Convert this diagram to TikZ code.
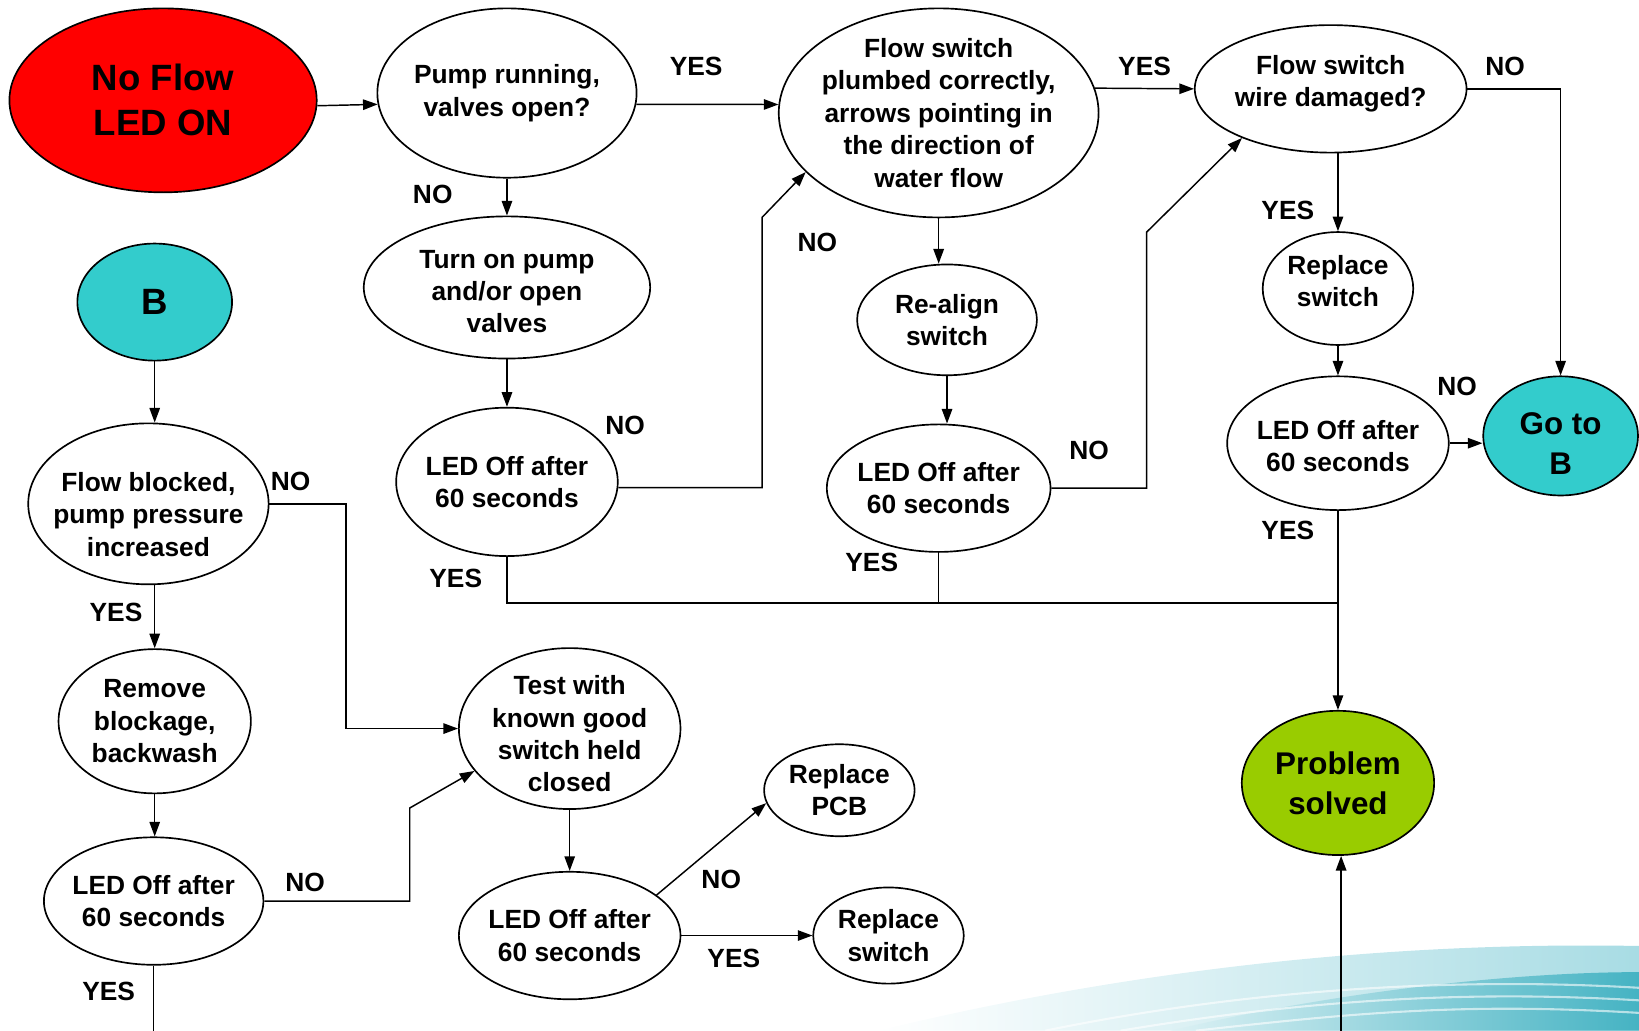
\documentclass[tikz,border=0pt]{standalone}
\usepackage{fontspec}
\setmainfont{Liberation Sans}
\usetikzlibrary{arrows.meta, shapes.geometric}
\definecolor{noflowred}{HTML}{FF0000}
\definecolor{jumpteal}{HTML}{33CCCC}
\definecolor{solvedgreen}{HTML}{99CC00}
\definecolor{wavelight}{HTML}{A8DCE4}
\definecolor{wavedark}{HTML}{45B3C3}

\begin{document}
\begin{tikzpicture}[x=0.5pt, y=-0.5pt,
    every node/.style={font=\bfseries},
    bub/.style={ellipse, draw=black, line width=0.8pt, fill=white, inner sep=0pt},
    txt/.style={font=\fontsize{12.6}{15.5}\selectfont\bfseries},
    big/.style={font=\fontsize{17.5}{21.5}\selectfont\bfseries},
    mid/.style={font=\fontsize{15}{19}\selectfont\bfseries},
    every label/.style={txt, align=center, inner sep=0pt},
    ans/.style={txt, inner sep=0pt},
    arr/.style={line width=0.7pt, -{Triangle[length=7pt, width=5pt]}},
    link/.style={line width=0.7pt},
]
\useasboundingbox (0,0) rectangle (1568,986);

% background swoosh
\shade[left color=white, right color=wavelight] (840,986) .. controls (1050,935) and (1300,900) .. (1568,905) -- (1568,986) -- cycle;
\shade[left color=wavelight!40, right color=wavedark] (1120,986) .. controls (1280,948) and (1450,930) .. (1568,930) -- (1568,986) -- cycle;
\foreach \d in {0,12,24}{
    \draw[white, line width=1pt, opacity=.6] (1000+\d*6,986) .. controls (1200+\d*4,945+\d) and (1400,935+\d) .. (1568,945+\d);
}

% top row
\node[bub, fill=noflowred, minimum width=147pt, minimum height=88pt, label={[big]center:No Flow\\LED ON}] (noflow) at (156,96) {};
\node[bub, minimum width=124pt, minimum height=81pt, label={center:Pump running,\\valves open?}] (pump) at (485,89) {};
\node[bub, minimum width=153pt, minimum height=100pt, label={center:Flow switch\\plumbed correctly,\\arrows pointing in\\the direction of\\water flow}] (fs) at (898,108) {};
\node[bub, minimum width=130pt, minimum height=61pt, label={[yshift=2.5pt]center:Flow switch\\wire damaged?}] (wire) at (1273,85) {};

% second column
\node[bub, minimum width=137pt, minimum height=68pt, label={[yshift=-2pt]center:Turn on pump\\and/or open\\valves}] (turn) at (485,275) {};
\node[bub, minimum width=106pt, minimum height=71pt, label={center:LED Off after\\60 seconds}] (led1) at (485,461) {};

% third column
\node[bub, minimum width=86pt, minimum height=53pt, label={center:Re-align\\switch}] (realign) at (906,306) {};
\node[bub, minimum width=107pt, minimum height=61pt, label={center:LED Off after\\60 seconds}] (led2) at (898,467) {};

% fourth column
\node[bub, minimum width=72pt, minimum height=54pt, label={[yshift=3.5pt]center:Replace\\switch}] (repl1) at (1280,276) {};
\node[bub, minimum width=106pt, minimum height=64pt, label={[yshift=-1.5pt]center:LED Off after\\60 seconds}] (led3) at (1280,424) {};
\node[bub, fill=jumpteal, minimum width=74pt, minimum height=57pt, label={[mid, yshift=-3.5pt]center:Go to\\B}] (gob) at (1493,417) {};
\node[bub, fill=solvedgreen, minimum width=92pt, minimum height=69pt, label={[mid]center:Problem\\solved}] (solved) at (1280,749) {};

% left column
\node[bub, fill=jumpteal, minimum width=74pt, minimum height=56pt, label={[big]center:B}] (B) at (148,289) {};
\node[bub, minimum width=115pt, minimum height=77pt, label={[yshift=-5pt]center:Flow blocked,\\pump pressure\\increased}] (blocked) at (142,482) {};
\node[bub, minimum width=92pt, minimum height=69pt, label={center:Remove\\blockage,\\backwash}] (remove) at (148,690) {};
\node[bub, minimum width=105pt, minimum height=61pt, label={center:LED Off after\\60 seconds}] (led4) at (147,862) {};

% bottom middle
\node[bub, minimum width=106pt, minimum height=77pt, label={[yshift=-2.5pt]center:Test with\\known good\\switch held\\closed}] (test) at (545,697) {};
\node[bub, minimum width=106pt, minimum height=61pt, label={center:LED Off after\\60 seconds}] (led5) at (545,895) {};
\node[bub, minimum width=72pt, minimum height=44pt, label={center:Replace\\PCB}] (pcb) at (803,756) {};
\node[bub, minimum width=72pt, minimum height=46pt, label={center:Replace\\switch}] (repl2) at (850,895) {};

% bends and loose ends
\coordinate (k1) at (729,208);
\coordinate (k2) at (1097,222);
\coordinate (k3) at (331,600);
\coordinate (k4) at (392,773);
\coordinate (bus) at (1280,577);
\coordinate (out1) at (147,990);
\coordinate (in1) at (1283,990);

% connectors
\draw[arr] (noflow.-2) -- (pump.185);
\draw[arr] (pump.-5) -- (fs.177);
\draw[arr] (fs.9) -- (wire.west);
\draw[arr] (wire.east) -| (gob.north);
\draw[arr] (pump.south) -- (turn.north);
\draw[arr] (turn.south) -- (led1.north);
\draw[arr] (led1.-3) -| (k1) -- (fs.204);
\draw[link] (led1.south) |- (bus);
\draw[arr] (fs.south) -- (fs.south |- realign.north);
\draw[arr] (realign.south) -- (realign.south |- led2.north);
\draw[link] (led2.south) -- (led2.south |- bus);
\draw[arr] (led2.east) -| (k2) -- (wire.209);
\draw[arr] (wire.south -| repl1.north) -- (repl1.north);
\draw[arr] (repl1.south) -- (led3.north);
\draw[arr] (led3.east) -- (led3.east -| gob.west);
\draw[arr] (led3.south) -- (solved.north);
\draw[arr] (in1) -- (in1 |- solved.south);
\draw[arr] (B.south) -- (B.south |- blocked.north);
\draw[arr] (blocked.east) -| (k3) |- (test.west);
\draw[arr] (remove.north |- blocked.south) -- (remove.north);
\draw[arr] (remove.south) -- (remove.south |- led4.north);
\draw[arr] (led4.east) -| (k4) -- (test.204);
\draw[link] (led4.south) -- (out1);
\draw[arr] (test.south) -- (led5.north);
\draw[arr] (led5.25) -- (pcb.190);
\draw[arr] (led5.east) -- (repl2.west);

% answers
\foreach \nm/\px/\py/\t in {a1/666/64/YES, a2/414/186/NO, a3/598/407/NO, a4/782/232/NO,
                            a5/436/553/YES, a6/1095/64/YES, a7/1042/431/NO, a8/834/538/YES,
                            a9/1440/64/NO, a10/1232/201/YES, a11/1394/370/NO, a12/1232/507/YES,
                            a13/278/461/NO, a14/111/586/YES, a15/292/844/NO, a16/104/948/YES,
                            a17/690/841/NO, a18/702/917/YES}{
    \node[ans] (\nm) at (\px,\py) {\t};
}
\end{tikzpicture}
\end{document}
